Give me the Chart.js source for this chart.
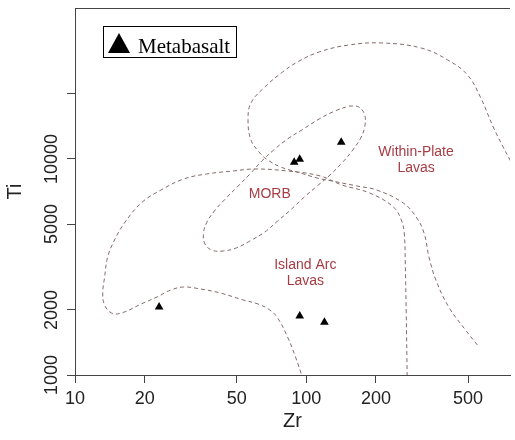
<!DOCTYPE html>
<html>
<head>
<meta charset="utf-8">
<script src="https://cdn.jsdelivr.net/npm/chart.js@4/dist/chart.umd.min.js"></script>
<style>
  html, body { margin: 0; padding: 0; background: #fff; }
</style>
</head>
<body>
<canvas id="zrTiChart" width="515" height="440"></canvas>
<script>
/* Ti vs Zr discrimination plot (log-log) */

// metabasalt samples (ppm)
const sampleZr = [23.1, 88.6, 93.6, 141.5, 93.6, 119.7];
const sampleTi = [2064, 9654, 9968, 11950, 1875, 1754];

// field boundaries
const morbZr = [152.7, 168.5, 178.7, 178.7, 171.8, 158.8, 142.5, 126.6, 111.4, 98.06, 85.43, 75.17, 66.13, 57.07, 49.74, 43.75, 38.89, 36.29, 35.94, 37.01, 40.05, 44.62, 50.73, 57.07, 64.22, 72.28, 82.94, 97.10, 113.6, 133.0, 152.7];
const morbTi = [17600, 17410, 15980, 14070, 12510, 11010, 9583, 8433, 7499, 6670, 5806, 5164, 4592, 4173, 3873, 3751, 3791, 4084, 4544, 5055, 5745, 6529, 7499, 8522, 9788, 11010, 12380, 13770, 15320, 16680, 17600];

const arcZr = [97.1, 89.75, 82.94, 75.17, 69.48, 61.75, 53.29, 42.48, 34.89, 29.52, 25.97, 22.63, 19.33, 15.88, 14.39, 13.43, 13.18, 13.43, 13.84, 14.82, 16.36, 19.33, 23.54, 29.52, 37.01, 48.28, 59.95, 82.94, 114.8, 142.5, 187.7, 237.8, 257.3, 264.9, 267.6, 270.2, 272.9];
const arcTi = [947, 1212, 1499, 1836, 2000, 2132, 2225, 2397, 2501, 2555, 2475, 2297, 2132, 1936, 1936, 2109, 2397, 2842, 3518, 4217, 5055, 6256, 7186, 8080, 8522, 8799, 8989, 8799, 8343, 7580, 6960, 5995, 5219, 4544, 3300, 1936, 947];

const wplZr = [548.8, 487.5, 412.5, 363.0, 338.9, 322.6, 298.2, 262.3, 201.2, 165.2, 135.7, 111.4, 94.27, 77.42, 68.13, 62.97, 57.63, 55.96, 57.63, 66.13, 78.96, 91.52, 113.6, 152.7, 211.3, 313.2, 408.4, 497.3, 565.1, 642.2, 708.7, 759.2, 837.5];
const wplTi = [1377, 1615, 2064, 2753, 3518, 4544, 5388, 6256, 7186, 7499, 7826, 8166, 8614, 9183, 9894, 10660, 12250, 15160, 18170, 21540, 25280, 28120, 31290, 33710, 34440, 32650, 28730, 24480, 19360, 14070, 11370, 9894, 8000];

// field labels
const fieldNames = [["MORB"], ["Within-Plate", "Lavas"], ["Island Arc", "Lavas"]];
const fieldZr = [69.5, 298, 99];
const fieldTi = [6890, 9890, 2970];

// axis ticks
const xTicks = [10, 20, 50, 100, 200, 500];
const yTicks = [1000, 2000, 5000, 10000, 20000];
const yTickLabels = ["1000", "2000", "5000", "10000", ""];

const SANS = "'Liberation Sans', Arial, sans-serif";
const pts = (xs, ys) => xs.map((x, i) => ({ x: x, y: ys[i] }));

const curve = {
  showLine: true,
  pointRadius: 0,
  pointHoverRadius: 0,
  borderColor: "#846a6a",
  borderWidth: 1,
  borderDash: [4, 3],
  tension: 0.4,
  fill: false
};

const overlay = {
  id: "overlay",
  afterDraw(chart) {
    const { ctx, chartArea: a, scales: { x, y } } = chart;
    ctx.save();

    // top of the frame
    ctx.strokeStyle = "#444";
    ctx.lineWidth = 1;
    ctx.beginPath();
    ctx.moveTo(a.left, a.top + 0.5);
    ctx.lineTo(a.right, a.top + 0.5);
    ctx.stroke();

    // y tick labels, turned like R does
    ctx.fillStyle = "#222";
    ctx.font = "18px " + SANS;
    ctx.textAlign = "center";
    ctx.textBaseline = "alphabetic";
    yTicks.forEach((v, i) => {
      ctx.save();
      ctx.translate(a.left - 18, y.getPixelForValue(v));
      ctx.rotate(-Math.PI / 2);
      ctx.fillText(yTickLabels[i], 0, 0);
      ctx.restore();
    });

    // field names
    ctx.fillStyle = "#a83c44";
    ctx.font = "14px " + SANS;
    ctx.textBaseline = "middle";
    fieldNames.forEach((lines, i) => {
      const px = x.getPixelForValue(fieldZr[i]);
      const py = y.getPixelForValue(fieldTi[i]);
      lines.forEach((t, j) => {
        ctx.fillText(t, px, py + (j - (lines.length - 1) / 2) * 16);
      });
    });

    // legend box
    const lx = a.left + 28, ly = a.top + 18;
    ctx.strokeStyle = "#000";
    ctx.strokeRect(lx + 0.5, ly + 0.5, 133, 31);
    ctx.fillStyle = "#000";
    ctx.beginPath();
    ctx.moveTo(lx + 16, ly + 7);
    ctx.lineTo(lx + 27, ly + 27);
    ctx.lineTo(lx + 5, ly + 27);
    ctx.closePath();
    ctx.fill();
    ctx.font = "21px 'Liberation Serif', 'Times New Roman', serif";
    ctx.textAlign = "left";
    ctx.textBaseline = "alphabetic";
    ctx.fillText(chart.data.datasets[0].label, lx + 35, ly + 27);

    ctx.restore();
  }
};

new Chart(document.getElementById("zrTiChart"), {
  type: "scatter",
  data: {
    datasets: [
      {
        label: "Metabasalt",
        data: pts(sampleZr, sampleTi),
        pointStyle: "triangle",
        pointRadius: 5,
        pointHoverRadius: 5,
        backgroundColor: "#000",
        borderColor: "#000",
        borderWidth: 0
      },
      { label: "MORB", data: pts(morbZr, morbTi), ...curve },
      { label: "Island Arc", data: pts(arcZr, arcTi), ...curve },
      { label: "Within-Plate", data: pts(wplZr, wplTi), ...curve }
    ]
  },
  options: {
    responsive: false,
    animation: false,
    layout: { padding: { top: 8, right: 0, bottom: 0, left: 0 } },
    plugins: {
      legend: { display: false },
      tooltip: { enabled: false }
    },
    scales: {
      x: {
        type: "logarithmic",
        min: 10,
        max: 759,
        afterBuildTicks: s => { s.ticks = xTicks.map(v => ({ value: v })); },
        afterFit: s => { s.height = 65; },
        ticks: {
          autoSkip: false,
          maxRotation: 0,
          padding: 5,
          color: "#222",
          font: { family: SANS, size: 18 },
          callback: v => String(v)
        },
        grid: { drawOnChartArea: false, tickLength: 8, color: "#444" },
        border: { color: "#444", width: 1 },
        title: {
          display: true,
          text: "Zr",
          color: "#222",
          font: { family: SANS, size: 20 },
          padding: { top: 0, bottom: 7 }
        }
      },
      y: {
        type: "logarithmic",
        min: 1000,
        max: 50000,
        afterBuildTicks: s => { s.ticks = yTicks.map(v => ({ value: v })); },
        afterFit: s => { s.width = 75; },
        ticks: { display: false },
        grid: { drawOnChartArea: false, tickLength: 8, color: "#444" },
        border: { color: "#444", width: 1 },
        title: {
          display: true,
          text: "Ti",
          color: "#222",
          font: { family: SANS, size: 20 },
          padding: { top: 3, bottom: 0 }
        }
      }
    }
  },
  plugins: [overlay]
});
</script>
</body>
</html>
